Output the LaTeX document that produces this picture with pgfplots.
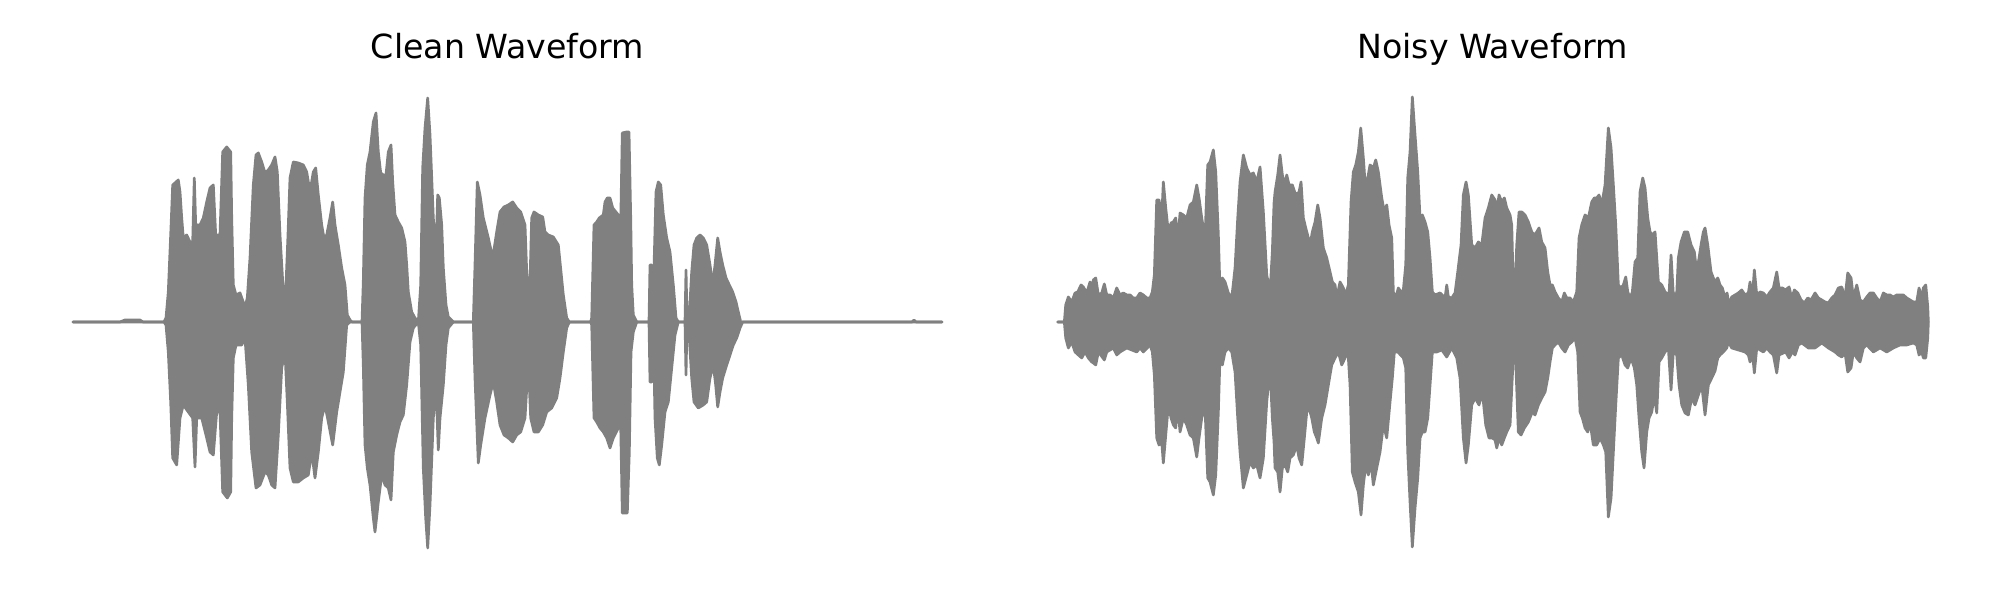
\documentclass[border=0pt]{standalone}
\usepackage{fontspec}
\setmainfont{DejaVu Sans}
\usepackage{pgfplots}
\pgfplotsset{compat=1.18}
\usepgfplotslibrary{fillbetween}
\definecolor{wgray}{RGB}{128,128,128}
\pgfplotsset{
  wave/.style={draw=wgray, line width=1.95pt, line join=round, line cap=round, mark=none},
  wavefill/.style={fill=wgray, draw=none},
  waveaxis/.style={
    hide axis, scale only axis, width=690.9pt, height=359.2pt,
    ymin=-248.5, ymax=248.5,
    title style={at={(0.5,1)}, anchor=base, yshift=5pt, font=\fontsize{24}{28}\selectfont},
  },
}
\begin{document}
\begin{tikzpicture}
\path (0,0) rectangle (1445.4pt,433.6pt);
% ---------------- Clean ----------------
\begin{axis}[waveaxis, at={(21.32pt,21.32pt)}, anchor=south west,
  xmin=29.5, xmax=985.5, title={Clean Waveform}]
\addplot[wave, name path=cu] coordinates {
(73,0) (120,0) (125,2) (140,2) (143,0) (164,0) (166,4) (168.3,30) (170.7,87) (172.7,137) (175,139) (178.3,142) (180,130) (181.7,104) (183.3,84) (186.7,87) (190,80) (192.7,80) (194.3,144) (195.7,97) (200,97) (203.3,104) (206.7,120) (210,134) (213.3,137) (215.7,87) (220,87) (222.7,170) (226.7,175) (230.7,170) (231.7,104) (233.3,37) (236,27) (240,29) (245,15) (247.3,24) (250,64) (253.3,137) (256,167) (258.3,169) (261.7,160) (265,149) (268.3,152) (271.7,157) (275,165) (277.3,150) (280,87) (283.3,30) (286,37) (288,87) (290,144) (293.3,160) (298.3,159) (303.3,157) (306.7,150) (310,130) (313.3,150) (315.7,154) (318.3,127) (321.7,97) (324,84) (326.7,87) (330,104) (332.7,120) (335,97) (338.3,77) (341.7,54) (345,37) (347.3,7) (350,2) (352,0) (362,0) (363.3,40) (365,124) (367.3,157) (370,170) (373.3,200) (376,209) (378.3,170) (380.7,149) (383.3,147) (386,147) (388.3,170) (391,177) (392.7,140) (395,107) (398.3,100) (401.7,94) (405,80) (406.7,57) (408.3,30) (411.7,10) (415,4) (418.3,0) (420.7,37) (422.7,154) (425,194) (427.7,224) (430,187) (433.3,104) (436,70) (437.7,127) (439.3,124) (441.7,97) (443.3,54) (446,17) (448.3,5) (453.3,0) (473.3,0) (475,57) (477.3,140) (480,127) (483.3,104) (488.3,84) (492.7,64) (496.7,90) (500,110) (504,115) (508.3,117) (512.7,120) (516.7,114) (520.7,110) (525,97) (526.7,50) (528.3,34) (530,40) (531.7,104) (534,110) (538.3,107) (542.7,105) (545,90) (548.3,87) (553.3,85) (558.3,77) (560,60) (563.3,27) (566.7,4) (569.3,0) (590.7,0) (591.7,4) (594,97) (596.7,100) (599.3,104) (603.3,107) (605,120) (607.3,124) (610,124) (612.7,114) (618.3,107) (620.7,97) (622.3,189) (626.7,190) (629,190) (630.7,104) (631.7,37) (633.3,7) (636.7,0) (649,0) (650,57) (651.7,57) (652.7,4) (654,54) (656,130) (658.3,140) (660.7,137) (663.3,107) (666.7,84) (670,70) (673.3,37) (676,4) (678.3,0) (685,0) (686,52) (687,4) (689.3,7) (691.7,50) (694,77) (696.7,84) (700,87) (703.3,84) (706.7,77) (710,57) (712.7,37) (715,57) (717.7,84) (720,70) (722.7,57) (726,44) (729.3,37) (732.7,30) (736,20) (738.3,10) (740.7,0) (912,0) (914,2) (916,0) (942,0)
};
\addplot[wave, name path=cl] coordinates {
(73,0) (164,0) (166,-3) (168.3,-30) (170.7,-80) (172.7,-136) (176.7,-143) (180,-96) (183.3,-83) (188.3,-90) (192.7,-96) (195,-145) (196.7,-96) (201.7,-96) (206.7,-116) (210,-130) (213.3,-133) (216.7,-90) (220,-90) (222.7,-170) (227.3,-176) (230.7,-170) (231.7,-96) (233.3,-36) (236,-23) (241.7,-23) (245,-16) (248.3,-63) (251.7,-130) (256,-166) (260,-163) (265,-150) (268.3,-153) (271.7,-163) (275,-166) (278.3,-113) (281.7,-46) (285,-30) (287.3,-80) (290,-146) (293.3,-160) (298.3,-160) (303.3,-156) (308.3,-153) (311.7,-130) (315,-156) (318.3,-130) (321.7,-96) (325,-83) (328.3,-100) (332.7,-123) (336.7,-90) (340,-70) (343.3,-50) (346.7,-3) (350,0) (362,0) (363.3,-43) (365,-123) (367.3,-146) (370,-163) (373.3,-196) (375,-210) (378.3,-180) (381.7,-153) (385,-163) (388.3,-166) (391,-178) (393.3,-130) (396.7,-113) (400,-100) (403.3,-93) (406.7,-63) (410,-20) (413.3,-6) (418.3,0) (420.7,-23) (423.3,-146) (425.7,-196) (427.7,-226) (430,-183) (433.3,-96) (436,-63) (438.3,-128) (440,-96) (443.3,-63) (446,-23) (448.3,-6) (453.3,0) (473.3,0) (475,-56) (478.3,-141) (480.7,-123) (485,-96) (490,-73) (493.3,-60) (496.7,-80) (500,-103) (504,-113) (508.3,-116) (512.7,-120) (516.7,-113) (520.7,-110) (525,-96) (528.3,-40) (530.7,-96) (534,-110) (538.3,-110) (542.7,-103) (546.7,-90) (551.7,-86) (556.7,-76) (560,-56) (563.3,-30) (566.7,-6) (569.3,0) (590.7,0) (591.7,-3) (594,-96) (596.7,-100) (600,-106) (603.3,-110) (606.7,-116) (610,-126) (613.3,-116) (618.3,-106) (620.7,-103) (622.3,-191) (627.3,-191) (629.3,-130) (631,-30) (633.3,-10) (636.7,0) (649,0) (650,-60) (651.7,-60) (653.3,-6) (655,-96) (657.3,-136) (659.3,-143) (661.7,-123) (665,-90) (668.3,-80) (671.7,-46) (675,-13) (678.3,0) (685,0) (686,-53) (687,0) (689.3,-16) (691.7,-56) (694,-80) (698.3,-86) (703.3,-83) (706.7,-80) (710,-56) (713.3,-43) (715.7,-63) (717.7,-85) (720,-70) (722.7,-56) (726.7,-43) (730,-33) (733.3,-23) (736.7,-16) (740,-6) (742.7,0) (942,0)
};
\addplot[wavefill] fill between[of=cu and cl];
\end{axis}
% ---------------- Noisy ----------------
\begin{axis}[waveaxis, at={(733.2pt,21.32pt)}, anchor=south west,
  xmin=1014.5, xmax=1970.5, title={Noisy Waveform}]
\addplot[wave, name path=nu] coordinates {
(1057.7,0) (1064.3,0) (1065.7,17) (1068.3,25) (1071.7,20) (1075,29) (1077.7,30) (1081,37) (1083.3,35) (1086.7,29) (1090,40) (1091.7,34) (1093.3,42) (1095.7,44) (1098.3,27) (1101.7,29) (1104.3,38) (1106.7,27) (1110,27) (1113.3,24) (1116.7,34) (1120,27) (1123.3,29) (1126.7,27) (1130,27) (1133.3,24) (1136.7,24) (1140,29) (1143.3,27) (1146.7,24) (1150,24) (1152.3,30) (1154.3,47) (1156.7,122) (1159,122) (1161.7,104) (1163.3,140) (1165.7,114) (1168.3,90) (1171,99) (1173.3,100) (1175.7,104) (1177.7,80) (1180,109) (1183.3,107) (1186.7,104) (1190,117) (1193.3,120) (1196.7,137) (1199,124) (1201.7,104) (1205,84) (1207.7,157) (1210,160) (1213.3,172) (1215.7,150) (1218.3,87) (1220,30) (1222.3,44) (1225,40) (1228.3,29) (1231.7,24) (1235,54) (1237.7,104) (1240,140) (1243.3,167) (1246.7,154) (1250,147) (1253.3,149) (1256.7,140) (1260,155) (1263.3,110) (1266.7,47) (1270,30) (1272.3,70) (1274,119) (1275,130) (1277.7,147) (1280,167) (1282.3,147) (1285,137) (1286.7,147) (1289,137) (1292.3,137) (1295.7,127) (1299,130) (1301,140) (1303.3,104) (1305.7,94) (1308.3,84) (1310,77) (1312.3,90) (1315,100) (1317.7,117) (1320,104) (1323.3,74) (1326.7,64) (1330,50) (1332.3,40) (1335,37) (1336.7,24) (1340,40) (1343.3,34) (1345.7,27) (1348.3,37) (1351,120) (1353.3,150) (1355.7,157) (1358.3,170) (1360.7,194) (1363.3,164) (1365,140) (1367.7,144) (1370,157) (1373.3,154) (1375.7,162) (1378.3,150) (1381.7,124) (1384.3,110) (1386.7,117) (1389,97) (1391.7,84) (1393.3,30) (1395.7,24) (1398.3,34) (1401,30) (1403.3,32) (1405.7,57) (1407.7,144) (1410,170) (1412.3,225) (1415,187) (1417.7,150) (1420,104) (1422.3,107) (1425,100) (1427.7,90) (1430,64) (1432.3,30) (1435,27) (1440,29) (1445,24) (1446.7,37) (1448.3,25) (1451.7,24) (1455,29) (1457.7,50) (1461,77) (1463.3,127) (1466,140) (1468.3,127) (1471.7,77) (1475,74) (1478.3,80) (1481.7,77) (1485,104) (1488.3,114) (1491.7,127) (1495,122) (1496.7,110) (1499,127) (1501.7,120) (1504.3,124) (1506.7,114) (1510,107) (1511.7,97) (1513.3,30) (1515,34) (1516.7,77) (1519,110) (1521.7,110) (1525,107) (1528.3,100) (1531.7,90) (1534.3,87) (1536.7,90) (1539,94) (1541.7,80) (1545,74) (1547.7,50) (1550,37) (1552.3,37) (1555,30) (1558.3,24) (1561.7,20) (1564.3,29) (1566.7,24) (1570,24) (1573.3,20) (1576.7,30) (1579,84) (1581.7,97) (1585,107) (1588.3,104) (1591.7,120) (1594.3,124) (1596.7,124) (1599,127) (1601.7,117) (1605,137) (1608.3,194) (1611,174) (1613.3,137) (1615.7,97) (1618.3,37) (1621,34) (1623.3,37) (1625.7,45) (1627.7,30) (1630,24) (1632.3,30) (1635,60) (1637.7,64) (1640,130) (1642.7,144) (1645,134) (1647.7,104) (1650,90) (1652.3,87) (1655,90) (1658.3,40) (1661.7,37) (1665,30) (1669,27) (1671,67) (1673.3,27) (1676.7,29) (1678.3,64) (1681,80) (1684.3,90) (1687.7,90) (1691,77) (1694.3,70) (1696.7,50) (1699,64) (1701,77) (1703.3,90) (1705,94) (1707.7,77) (1711,50) (1713.3,44) (1715,40) (1717.7,44) (1720,37) (1722.3,34) (1725,24) (1727,29) (1729,17) (1731.7,25) (1735,27) (1738.3,29) (1741.7,32) (1745,27) (1748.3,29) (1750,40) (1752.3,24) (1754.3,52) (1756.7,27) (1760,30) (1763.3,29) (1766.7,25) (1770,30) (1773.3,34) (1776.7,50) (1779,34) (1782.3,34) (1785.7,32) (1789,35) (1791.7,24) (1794.3,32) (1797.7,29) (1801,22) (1804.3,19) (1807.7,24) (1811,22) (1815,29) (1818.3,24) (1821.7,22) (1825,20) (1828.3,19) (1831.7,24) (1835,27) (1838.3,34) (1841.7,35) (1845,24) (1847.7,49) (1851,44) (1853.3,24) (1856.7,37) (1860,22) (1863.3,20) (1866.7,25) (1870,29) (1873.3,29) (1876.7,24) (1880,20) (1883.3,29) (1886.7,27) (1890,27) (1893.3,25) (1896.7,27) (1900,27) (1903.3,27) (1906.7,24) (1910,22) (1913.3,20) (1916.7,20) (1919,34) (1921.7,24) (1923.3,34) (1925.7,37) (1927.7,15) (1928.3,0)
};
\addplot[wave, name path=nl] coordinates {
(1057.7,0) (1064.3,0) (1065.7,-16) (1068.3,-26) (1071.7,-20) (1075,-30) (1078.3,-33) (1081.7,-36) (1085,-30) (1088.3,-36) (1091.7,-40) (1093.3,-41) (1095.7,-43) (1098.3,-30) (1104.3,-38) (1106.7,-30) (1113.3,-26) (1116.7,-33) (1120,-30) (1126.7,-26) (1136.7,-30) (1140,-26) (1143.3,-30) (1150,-23) (1152.3,-30) (1154.3,-53) (1156.7,-116) (1159,-123) (1161.7,-120) (1163.3,-141) (1165.7,-113) (1168.3,-83) (1171,-96) (1173.3,-103) (1175.7,-106) (1177.7,-83) (1180,-110) (1183.3,-96) (1186.7,-103) (1190,-113) (1193.3,-116) (1196.7,-135) (1199,-116) (1201.7,-96) (1205,-86) (1207.7,-156) (1210,-160) (1213.3,-173) (1215.7,-153) (1218.3,-90) (1220,-33) (1222.3,-43) (1225,-30) (1228.3,-26) (1231.7,-30) (1235,-50) (1237.7,-96) (1240,-130) (1243.3,-166) (1246.7,-153) (1250,-140) (1253.3,-146) (1256.7,-143) (1260,-156) (1263.3,-136) (1266.7,-80) (1270,-46) (1272.3,-96) (1274,-120) (1275,-146) (1277.7,-150) (1280,-170) (1282.3,-146) (1285,-143) (1287.7,-150) (1290,-136) (1293.3,-133) (1296.7,-123) (1299,-136) (1301.7,-143) (1304.3,-116) (1306.7,-90) (1309,-86) (1311.7,-96) (1314.3,-110) (1316.7,-116) (1318.3,-121) (1321.7,-96) (1325,-83) (1328.3,-63) (1331.7,-43) (1335,-36) (1338.3,-30) (1341.7,-43) (1345,-36) (1347.7,-26) (1350,-63) (1352.3,-150) (1355,-160) (1358.3,-170) (1361,-193) (1363.3,-163) (1365.7,-143) (1368.3,-153) (1371,-140) (1373.3,-163) (1376.7,-146) (1380,-130) (1383.3,-103) (1386.7,-116) (1390,-80) (1392.3,-56) (1394.3,-30) (1397.7,-30) (1403.3,-36) (1405.7,-46) (1407.7,-130) (1410,-180) (1412.3,-225) (1415,-186) (1417.7,-156) (1420,-116) (1422.3,-110) (1425,-110) (1427.7,-96) (1430,-63) (1432.3,-30) (1436.7,-30) (1441.7,-28) (1446.7,-35) (1451.7,-26) (1456.7,-36) (1460,-56) (1463.3,-116) (1466,-141) (1468.3,-123) (1471.7,-83) (1475,-76) (1479,-83) (1482.3,-70) (1485.7,-103) (1489,-116) (1492.3,-116) (1495,-118) (1496.7,-126) (1499,-116) (1501.7,-123) (1504.3,-116) (1506.7,-110) (1510,-103) (1513.3,-33) (1515.7,-40) (1518.3,-110) (1521,-113) (1524.3,-106) (1528.3,-100) (1532.3,-90) (1535,-93) (1538.3,-83) (1541.7,-76) (1545,-70) (1547.7,-56) (1550,-40) (1552.3,-26) (1555,-23) (1558.3,-20) (1561.7,-26) (1565,-30) (1568.3,-23) (1571.7,-20) (1575,-16) (1577.7,-30) (1580,-90) (1582.3,-96) (1585,-106) (1587.7,-110) (1590,-100) (1593.3,-123) (1596.7,-123) (1600,-116) (1603.3,-123) (1605.7,-130) (1608.3,-195) (1611,-176) (1613.3,-130) (1615.7,-83) (1618.3,-36) (1621.7,-33) (1625,-43) (1627.7,-46) (1631,-36) (1634.3,-46) (1636.7,-63) (1639,-96) (1641.7,-130) (1644,-146) (1646.7,-110) (1649,-96) (1651.7,-90) (1654.3,-73) (1656.7,-91) (1659,-40) (1661.7,-36) (1665,-30) (1668.3,-26) (1671,-68) (1673.3,-30) (1676.7,-33) (1679,-63) (1681.7,-83) (1685,-91) (1688.3,-93) (1691.7,-76) (1695,-83) (1698.3,-73) (1701.7,-63) (1705,-93) (1708.3,-63) (1711.7,-56) (1715,-49) (1717.7,-36) (1720,-33) (1723.3,-30) (1726.7,-26) (1728.3,-20) (1731.7,-26) (1738.3,-28) (1745,-30) (1748.3,-33) (1750,-40) (1752.3,-30) (1754.3,-51) (1756.7,-26) (1763.3,-30) (1766.7,-26) (1770,-30) (1773.3,-33) (1776.7,-51) (1779,-33) (1785.7,-30) (1789,-36) (1792.3,-30) (1795,-33) (1798.3,-23) (1801.7,-21) (1808.3,-26) (1815,-26) (1821.7,-21) (1828.3,-26) (1835,-30) (1838.3,-33) (1841.7,-35) (1845,-31) (1847.7,-50) (1851,-46) (1853.3,-30) (1856.7,-36) (1860,-40) (1863.3,-26) (1866.7,-23) (1873.3,-30) (1880,-26) (1886.7,-30) (1893.3,-26) (1900,-23) (1906.7,-23) (1913.3,-21) (1916.7,-23) (1919,-33) (1921.7,-30) (1923.3,-36) (1925.7,-36) (1927.7,-16) (1928.3,0)
};
\addplot[wavefill] fill between[of=nu and nl];
\end{axis}
\end{tikzpicture}
\end{document}
